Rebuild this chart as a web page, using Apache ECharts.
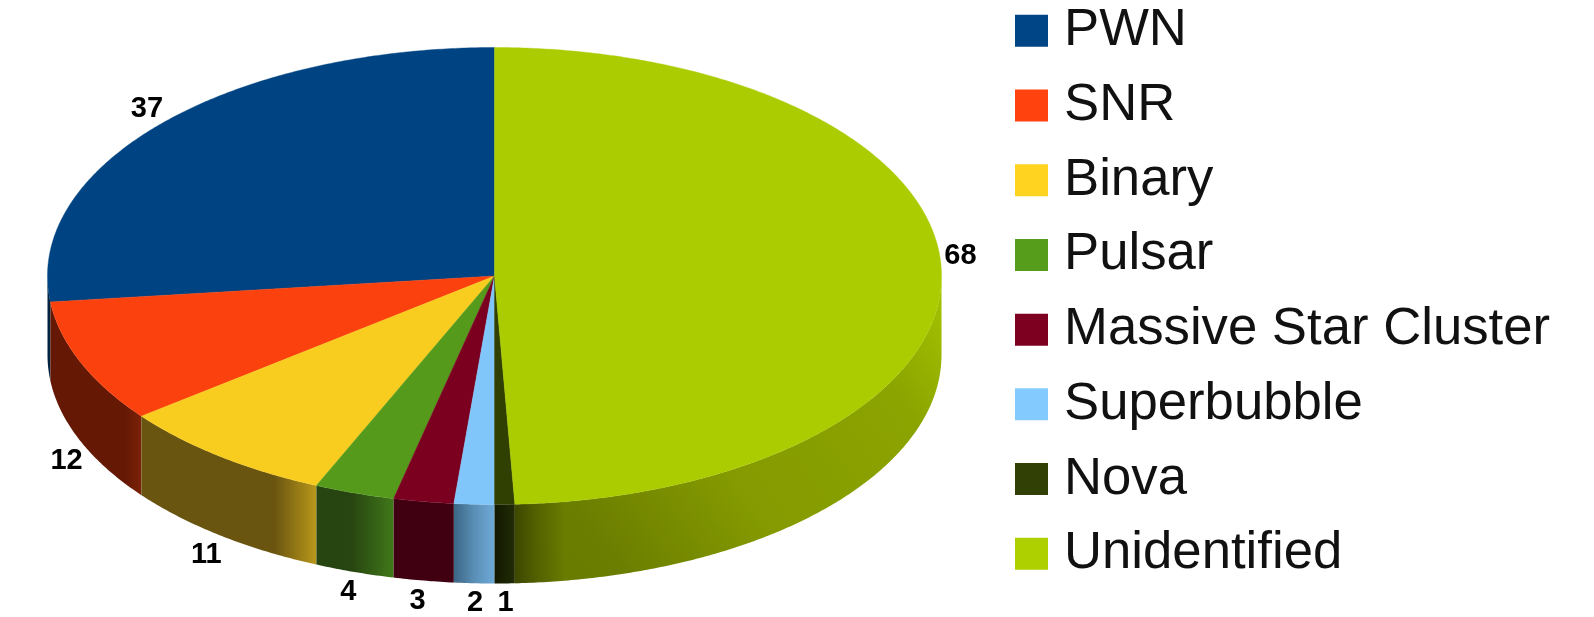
<!DOCTYPE html>
<html>
<head>
<meta charset="utf-8">
<style>html,body{margin:0;padding:0;background:#fff}#c{width:1594px;height:617px}</style>
<script src="https://cdn.jsdelivr.net/npm/echarts@6/dist/echarts.min.js"></script>
</head>
<body>
<div id="c"></div>
<script>
const categories = ['PWN','SNR','Binary','Pulsar','Massive Star Cluster','Superbubble','Nova','Unidentified'];
const values = [37,12,11,4,3,2,1,68];
const legendColors = ['#004586','#ff420e','#ffd320','#579d1c','#7e0021','#83caff','#314004','#aecf00'];
const topColors = ['#004382','#fb410e','#f8cd1f','#559a1b','#7b0020','#80c6fa','#304003','#aacc00'];
const sideStops = [
  [[0,'#00233f'],[1,'#00233f']],
  [[0,'#651804'],[0.82,'#651804'],[1,'#7c2208']],
  [[0,'#6a5510'],[0.76,'#6a5510'],[0.95,'#a88a18'],[1,'#b8971a']],
  [[0,'#274510'],[0.45,'#274510'],[1,'#40781a']],
  [[0,'#400011'],[1,'#400011']],
  [[0,'#3c6585'],[0.5,'#5a8fb5'],[1,'#6eaad8']],
  [[0,'#121800'],[1,'#222c06']],
  [[0,'#687a00'],[0.18,'#6c7e00'],[0.45,'#849a00'],[0.8,'#8ca400'],[0.97,'#a2c000'],[1,'#a6c400']]
];
const unidentifiedShade = [[0,'rgba(0,0,0,0.42)'],[0.05,'rgba(0,0,0,0.22)'],[0.12,'rgba(0,0,0,0)'],[1,'rgba(0,0,0,0)']];

const CX = 494.5, CY = 276, RX = 447, RY = 228.5, DEPTH = 79;
const total = values.reduce((a,b)=>a+b,0);
const starts = [];
values.reduce((acc,v,i)=>{ starts[i]=acc; return acc+v; },0);

function pt(t, dy){ return [CX - RX*Math.sin(t), CY - RY*Math.cos(t) + (dy||0)]; }
function arc(a, b, dy){
  const n = Math.max(2, Math.ceil(Math.abs(b-a)/0.008)), out = [];
  for(let k=0;k<=n;k++) out.push(pt(a+(b-a)*k/n, dy));
  return out;
}
function grad(x0,y0,x1,y1,stops){
  return new echarts.graphic.LinearGradient(x0,y0,x1,y1,stops.map(s=>({offset:s[0], color:s[1]})));
}

function makeRender(i){
  return function(params, api){
    const v = api.value(0);
    const a = starts[i]/total*2*Math.PI, b = (starts[i]+v)/total*2*Math.PI;
    const children = [];
    const sa = Math.max(a, Math.PI/2), sb = Math.min(b, 1.5*Math.PI);
    if(sb > sa){
      const points = arc(sa, sb, 0).concat(arc(sb, sa, DEPTH));
      const diag = i === 7;
      children.push({
        type:'polygon', z2:1, silent:true,
        shape:{points},
        style:{fill:grad(0, diag?1:0, 1, 0, sideStops[i]), stroke:null}
      });
      if(diag){
        children.push({
          type:'polygon', z2:1.5, silent:true,
          shape:{points},
          style:{fill:grad(0,0,1,0,unidentifiedShade), stroke:null}
        });
      }
    }
    children.push({
      type:'polygon', z2:2, silent:true,
      shape:{points:[[CX,CY]].concat(arc(a,b,0))},
      style:{fill:topColors[i], stroke:topColors[i], lineWidth:0.4}
    });
    const m = (a+b)/2, s = Math.sin(m), c = Math.cos(m);
    const lower = c < 0;
    const anchor = pt(m, lower ? DEPTH : 0);
    const halfW = String(v).length*8;
    const abs = Math.abs(s);
    let dx = abs > 0.1 ? -Math.sign(s)*(halfW-2) : 1;
    if(abs > 0.99) dx += -Math.sign(s)*5;
    const dy = lower ? 20 : -15;
    children.push({
      type:'text', z2:3, silent:true,
      style:{
        x:anchor[0]+dx, y:anchor[1]+dy, text:String(v),
        fill:'#000', font:'bold 29px "Liberation Sans", Arial, sans-serif',
        align:'center', verticalAlign:'middle'
      }
    });
    return {type:'group', children};
  };
}

const chart = echarts.init(document.getElementById('c'), null, {renderer:'canvas'});
chart.setOption({
  animation:false,
  backgroundColor:'#ffffff',
  tooltip:{show:false},
  legend:{
    show:true, orient:'vertical', left:1010, top:-2,
    data:categories, icon:'rect', itemWidth:33, itemHeight:32, itemGap:19,
    selectedMode:false,
    textStyle:{fontFamily:'"Liberation Sans", Arial, sans-serif', fontSize:52.7, lineHeight:52.7, color:'#111', padding:[0,0,3,11]}
  },
  series:categories.map((name,i)=>({
    type:'custom', name, coordinateSystem:'none', silent:true,
    itemStyle:{color:legendColors[i]},
    data:[[values[i]]],
    renderItem:makeRender(i)
  }))
});
</script>
</body>
</html>
